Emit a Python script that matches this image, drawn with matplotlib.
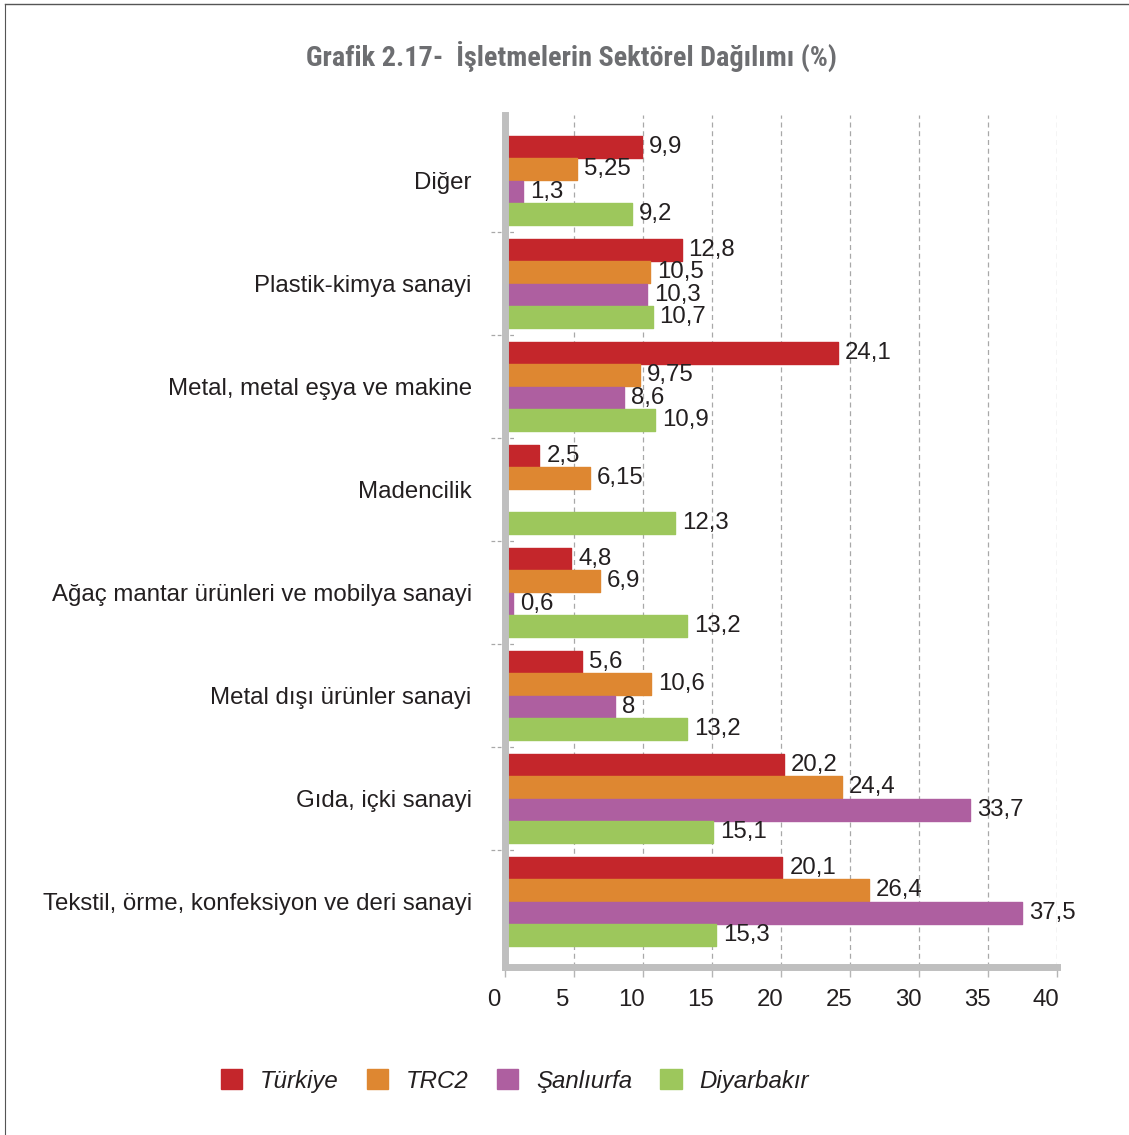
import numpy as np
import matplotlib.pyplot as plt
import matplotlib.transforms as mtransforms
from matplotlib.patches import Patch
from matplotlib.lines import Line2D

# Kategoriler (yukaridan asagiya)
sektorler = ["Diğer", "Plastik-kimya sanayi", "Metal, metal eşya ve makine",
             "Madencilik", "Ağaç mantar ürünleri ve mobilya sanayi",
             "Metal dışı ürünler sanayi", "Gıda, içki sanayi",
             "Tekstil, örme, konfeksiyon ve deri sanayi"]

# Seri degerleri (%)
turkiye = [9.9, 12.8, 24.1, 2.5, 4.8, 5.6, 20.2, 20.1]
trc2 = [5.25, 10.5, 9.75, 6.15, 6.9, 10.6, 24.4, 26.4]
sanliurfa = [1.3, 10.3, 8.6, None, 0.6, 8, 33.7, 37.5]
diyarbakir = [9.2, 10.7, 10.9, 12.3, 13.2, 13.2, 15.1, 15.3]

seriler = ["Türkiye", "TRC2", "Şanlıurfa", "Diyarbakır"]
renkler = ["#C4262B", "#DE8731", "#AE5FA0", "#9DC75C"]
xticks = [0, 5, 10, 15, 20, 25, 30, 35, 40]

plt.rcParams['font.family'] = ['Liberation Sans', 'DejaVu Sans']
yazi = "#231F20"
gri = "#BFBFBF"
fs = 17.3

fig = plt.figure(figsize=(11.29, 11.35), dpi=100)
ax = fig.add_axes([0.4473, 0.148, 0.4889, 0.7507])

y = np.arange(len(sektorler))
h = 0.212      # bar kalinligi
step = 0.219   # barlar arasi mesafe

for k, (vals, renk) in enumerate(zip([turkiye, trc2, sanliurfa, diyarbakir], renkler)):
    yy = y + (k - 1.5) * step
    for yi, v in zip(yy, vals):
        if v is None:
            continue
        ax.barh(yi, v, height=h, color=renk, edgecolor=renk, linewidth=1,
                joinstyle='round', zorder=2)
        ax.text(v + 0.5, yi, f"{v:g}".replace('.', ','), va='center', ha='left',
                fontsize=fs, color=yazi, zorder=4)

pad = 0.136
ax.set_ylim(len(sektorler) - 0.5 + pad, -0.5 - pad)
ax.set_xlim(0, 40)

ax.set_yticks(y)
ax.set_yticklabels(sektorler, fontsize=fs, color=yazi)
ax.tick_params(axis='y', length=0, pad=24)

ax.set_xticks(xticks)
ax.set_xticklabels([str(t) for t in xticks], fontsize=fs, color=yazi)
ax.tick_params(axis='x', length=7, width=1, color="#B5B5B5", pad=9, direction='out')
# tick etiketleri orijinaldeki gibi biraz sola kayik
kay = mtransforms.ScaledTranslation(-11 / 100, 0, fig.dpi_scale_trans)
for lbl in ax.get_xticklabels():
    lbl.set_transform(lbl.get_transform() + kay)

# dikey kesikli izgara cizgileri
for t in xticks[1:]:
    ax.axvline(t, color="#A8A8A8", linestyle=(0, (4, 3)), linewidth=0.9, zorder=1)

# kategori ayiraclari (sol eksende kisa kesikli cizgiler)
sinirlar = np.arange(0.5, len(sektorler) - 0.5, 1)
ax.hlines(sinirlar, -0.025, 0.02, transform=ax.get_yaxis_transform(),
          colors="#A8A8A8", linestyles=(0, (3, 2)), linewidth=0.9, clip_on=False)

for s in ['top', 'right']:
    ax.spines[s].set_visible(False)
for s in ['left', 'bottom']:
    ax.spines[s].set_color(gri)
    ax.spines[s].set_linewidth(5)
    ax.spines[s].set_capstyle('projecting')
    ax.spines[s].set_zorder(3)

# Baslik
fig.text(0.506, 0.950, "Grafik 2.17-  İşletmelerin Sektörel Dağılımı (%)",
         ha='center', va='center', fontsize=20.3, fontweight='bold', color="#6D6E71",
         family=['Roboto Condensed', 'Liberation Sans', 'DejaVu Sans'])

# Lejant
handles = [Patch(facecolor=c, edgecolor=c) for c in renkler]
fig.legend(handles, seriler, loc='center', bbox_to_anchor=(0.456, 0.0476), ncol=4,
           frameon=False, handlelength=0.9, handleheight=0.9, handletextpad=0.75,
           columnspacing=1.15, prop={'size': fs, 'style': 'italic'},
           labelcolor=yazi)

# Cerceve cizgileri (ust ve sol)
fig.add_artist(Line2D([0.0045, 1.0], [0.9965, 0.9965], transform=fig.transFigure,
                      color="#555555", linewidth=1))
fig.add_artist(Line2D([0.0045, 0.0045], [0.0, 0.9965], transform=fig.transFigure,
                      color="#555555", linewidth=0.8))

fig.savefig("out.png", dpi=100)
